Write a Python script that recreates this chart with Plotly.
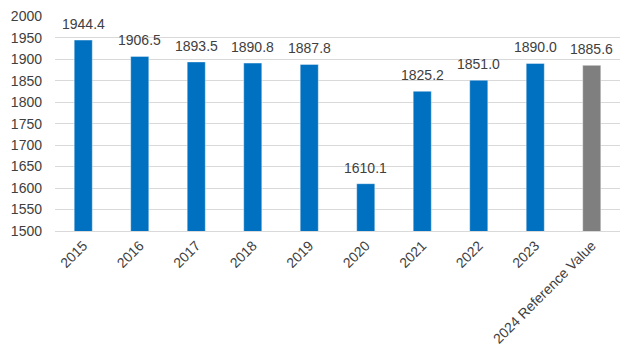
import plotly.graph_objects as go

categories = ["2015", "2016", "2017", "2018", "2019", "2020", "2021", "2022", "2023", "2024 Reference Value"]
values = [1944.4, 1906.5, 1893.5, 1890.8, 1887.8, 1610.1, 1825.2, 1851.0, 1890.0, 1885.6]
colors = ["#0070C0"] * 9 + ["#7F7F7F"]
labels = [f"{v:.1f}" for v in values]

fig = go.Figure(go.Bar(
    x=categories, y=values, marker_color=colors,
    marker_line=dict(color="rgba(255,255,255,0.4)", width=1),
    cliponaxis=False,
))
for i, (v, t) in enumerate(zip(values, labels)):
    fig.add_annotation(x=i, y=v, text=t, showarrow=False, yanchor="bottom", yshift=6,
                       font=dict(size=14, color="#404040"))
fig.update_layout(
    width=631, height=350,
    margin=dict(l=47, r=19, t=8, b=127, autoexpand=False),
    paper_bgcolor="white", plot_bgcolor="white",
    font=dict(family="Liberation Sans, Arial, sans-serif", size=14, color="#404040"),
    bargap=0.68, showlegend=False,
)
fig.update_yaxes(range=[1500, 2000.5], tickvals=list(range(1500, 2001, 50)),
                 gridcolor="#D9D9D9", gridwidth=1,
                 zeroline=False, ticklabelstandoff=12, showline=False, automargin=False)
fig.update_xaxes(type="category", categoryorder="array", categoryarray=categories,
                 range=[-0.5, len(categories) - 0.5],
                 tickangle=-45, showline=True, linecolor="#D9D9D9", linewidth=1, ticks="",
                 automargin=False)
fig.write_html("out.html")
